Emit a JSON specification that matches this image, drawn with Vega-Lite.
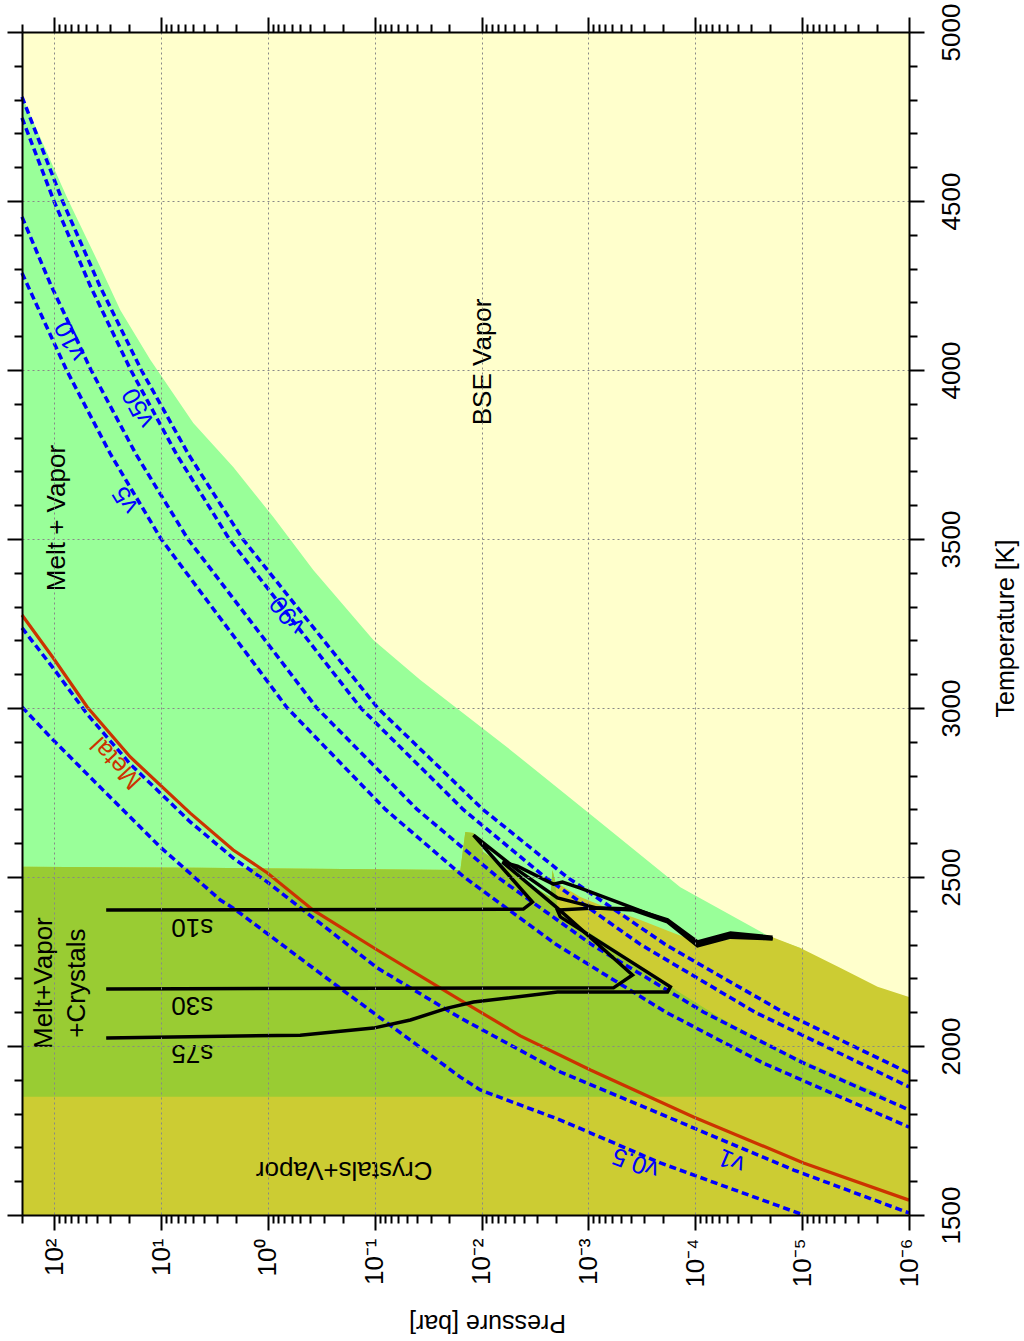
{
  "$schema": "https://vega.github.io/schema/vega-lite/v6.json",
  "width": 887,
  "height": 1183,
  "autosize": {"type": "none"},
  "padding": {"left": 22, "top": 32, "right": 115, "bottom": 126},
  "background": "white",
  "config": {
    "font": "Liberation Sans",
    "view": {"fill": "#ffffcc", "stroke": null}
  },
  "datasets": {
    "green": [
      {"P": 200, "T": 4810}, {"P": 102, "T": 4601}, {"P": 74, "T": 4503}, {"P": 37, "T": 4305},
      {"P": 24, "T": 4177}, {"P": 12.6, "T": 4030}, {"P": 4.99, "T": 3843}, {"P": 2.11, "T": 3713},
      {"P": 0.89, "T": 3565}, {"P": 0.376, "T": 3408}, {"P": 0.103, "T": 3201}, {"P": 0.0374, "T": 3083},
      {"P": 0.00537, "T": 2876}, {"P": 0.000824, "T": 2669}, {"P": 0.000138, "T": 2470},
      {"P": 1.98e-5, "T": 2322}, {"P": 1.04e-5, "T": 2290}
    ],
    "olive": [
      {"P": 200, "T": 2530}, {"P": 4.3, "T": 2527}, {"P": 0.0158, "T": 2521}, {"P": 0.0142, "T": 2633},
      {"P": 0.0119, "T": 2630}, {"P": 0.00962, "T": 2574}, {"P": 0.00372, "T": 2482}, {"P": 0.00227, "T": 2441},
      {"P": 0.00217, "T": 2521}, {"P": 0.00204, "T": 2485}, {"P": 0.00119, "T": 2441}, {"P": 0.000664, "T": 2408},
      {"P": 0.000326, "T": 2373}, {"P": 0.00016, "T": 2334}, {"P": 9.53e-5, "T": 2308}, {"P": 3.78e-5, "T": 2319},
      {"P": 1.89e-5, "T": 2322}, {"P": 1.04e-5, "T": 2290}, {"P": 4.37e-6, "T": 2231}, {"P": 1.97e-6, "T": 2175},
      {"P": 1e-6, "T": 2145}
    ],
    "olivegreen": [
      {"P": 200, "T": 2530}, {"P": 4.3, "T": 2527}, {"P": 0.0158, "T": 2521}, {"P": 0.0142, "T": 2633},
      {"P": 0.0119, "T": 2630}, {"P": 0.00962, "T": 2574}, {"P": 0.00372, "T": 2482}, {"P": 0.00227, "T": 2441},
      {"P": 0.00217, "T": 2521}, {"P": 0.00204, "T": 2485}, {"P": 0.00195, "T": 2396}, {"P": 0.000772, "T": 2314},
      {"P": 0.000326, "T": 2237}, {"P": 0.000138, "T": 2157}, {"P": 5.81e-5, "T": 2083}, {"P": 1.59e-5, "T": 1988},
      {"P": 4.37e-6, "T": 1908}, {"P": 1.58e-6, "T": 1850}
    ],
    "lines": [
      {"name": "v90", "P": 200, "T": 4808}, {"name": "v90", "P": 83.6, "T": 4500}, {"name": "v90", "P": 37.6, "T": 4250},
      {"name": "v90", "P": 15.3, "T": 4000}, {"name": "v90", "P": 5.52, "T": 3750}, {"name": "v90", "P": 1.72, "T": 3500},
      {"name": "v90", "P": 0.0938, "T": 3000}, {"name": "v90", "P": 0.00973, "T": 2700}, {"name": "v90", "P": 0.00159, "T": 2500},
      {"name": "v90", "P": 0.00019, "T": 2300}, {"name": "v90", "P": 1.51e-5, "T": 2100}, {"name": "v90", "P": 1e-6, "T": 1920},
      {"name": "v50", "P": 200, "T": 4746}, {"name": "v50", "P": 100.5, "T": 4500}, {"name": "v50", "P": 46.1, "T": 4250},
      {"name": "v50", "P": 19.2, "T": 4000}, {"name": "v50", "P": 7.14, "T": 3750}, {"name": "v50", "P": 2.3, "T": 3500},
      {"name": "v50", "P": 0.135, "T": 3000}, {"name": "v50", "P": 0.0149, "T": 2700}, {"name": "v50", "P": 0.00256, "T": 2500},
      {"name": "v50", "P": 0.000324, "T": 2300}, {"name": "v50", "P": 2.76e-5, "T": 2100}, {"name": "v50", "P": 1e-6, "T": 1879},
      {"name": "v10", "P": 200, "T": 4453}, {"name": "v10", "P": 107, "T": 4250}, {"name": "v10", "P": 45.2, "T": 4000},
      {"name": "v10", "P": 17.1, "T": 3750}, {"name": "v10", "P": 5.61, "T": 3500}, {"name": "v10", "P": 0.348, "T": 3000},
      {"name": "v10", "P": 0.0401, "T": 2700}, {"name": "v10", "P": 0.00711, "T": 2500}, {"name": "v10", "P": 0.000933, "T": 2300},
      {"name": "v10", "P": 8.32e-5, "T": 2100}, {"name": "v10", "P": 9.8e-6, "T": 1950}, {"name": "v10", "P": 1e-6, "T": 1811},
      {"name": "v5", "P": 200, "T": 4287}, {"name": "v5", "P": 76.7, "T": 4000}, {"name": "v5", "P": 29.6, "T": 3750},
      {"name": "v5", "P": 9.98, "T": 3500}, {"name": "v5", "P": 0.658, "T": 3000}, {"name": "v5", "P": 0.0794, "T": 2700},
      {"name": "v5", "P": 0.0146, "T": 2500}, {"name": "v5", "P": 0.002, "T": 2300}, {"name": "v5", "P": 0.000188, "T": 2100},
      {"name": "v5", "P": 2.33e-5, "T": 1950}, {"name": "v5", "P": 1e-6, "T": 1760},
      {"name": "v1", "P": 200, "T": 3237}, {"name": "v1", "P": 102, "T": 3118}, {"name": "v1", "P": 49.1, "T": 2982},
      {"name": "v1", "P": 19.4, "T": 2834}, {"name": "v1", "P": 5.33, "T": 2663}, {"name": "v1", "P": 2.11, "T": 2556},
      {"name": "v1", "P": 1.01, "T": 2485}, {"name": "v1", "P": 0.376, "T": 2379}, {"name": "v1", "P": 0.0946, "T": 2231},
      {"name": "v1", "P": 0.0158, "T": 2083}, {"name": "v1", "P": 0.00183, "T": 1923}, {"name": "v1", "P": 0.000212, "T": 1799},
      {"name": "v1", "P": 1.2e-5, "T": 1633}, {"name": "v1", "P": 1e-6, "T": 1506},
      {"name": "v0.5", "P": 200, "T": 3003}, {"name": "v0.5", "P": 102, "T": 2905}, {"name": "v0.5", "P": 34.8, "T": 2757},
      {"name": "v0.5", "P": 10.2, "T": 2589}, {"name": "v0.5", "P": 2.79, "T": 2432}, {"name": "v0.5", "P": 2.11, "T": 2408},
      {"name": "v0.5", "P": 0.244, "T": 2186}, {"name": "v0.5", "P": 0.0158, "T": 1908}, {"name": "v0.5", "P": 0.0103, "T": 1870},
      {"name": "v0.5", "P": 0.00183, "T": 1781}, {"name": "v0.5", "P": 0.000212, "T": 1654}, {"name": "v0.5", "P": 9.7e-6, "T": 1500},
      {"name": "Metal", "P": 200, "T": 3275}, {"name": "Metal", "P": 102, "T": 3148}, {"name": "Metal", "P": 49.1, "T": 3003},
      {"name": "Metal", "P": 19.4, "T": 2855}, {"name": "Metal", "P": 5.33, "T": 2689}, {"name": "Metal", "P": 2.11, "T": 2580},
      {"name": "Metal", "P": 1.01, "T": 2512}, {"name": "Metal", "P": 0.376, "T": 2402}, {"name": "Metal", "P": 0.0946, "T": 2284},
      {"name": "Metal", "P": 0.0158, "T": 2136}, {"name": "Metal", "P": 0.00434, "T": 2030}, {"name": "Metal", "P": 0.000957, "T": 1929},
      {"name": "Metal", "P": 0.000104, "T": 1790}, {"name": "Metal", "P": 9.7e-6, "T": 1654}, {"name": "Metal", "P": 1e-6, "T": 1544}
    ],
    "isentropes": [
      {"name": "s10", "i": 1, "P": 32.6, "T": 2402}, {"name": "s10", "i": 2, "P": 0.00406, "T": 2405},
      {"name": "s10", "i": 3, "P": 0.00334, "T": 2426}, {"name": "s10", "i": 4, "P": 0.0119, "T": 2624},
      {"name": "s10", "i": 5, "P": 0.00462, "T": 2521}, {"name": "s10", "i": 6, "P": 0.00195, "T": 2438},
      {"name": "s10", "i": 7, "P": 0.000824, "T": 2408}, {"name": "s10", "i": 8, "P": 0.000379, "T": 2405},
      {"name": "s10", "i": 9, "P": 0.000182, "T": 2373}, {"name": "s10", "i": 10, "P": 9.53e-5, "T": 2308},
      {"name": "s10", "i": 11, "P": 4.68e-5, "T": 2334}, {"name": "s10", "i": 12, "P": 1.89e-5, "T": 2322},
      {"name": "s30", "i": 1, "P": 32.6, "T": 2169}, {"name": "s30", "i": 2, "P": 0.000583, "T": 2172},
      {"name": "s30", "i": 3, "P": 0.000387, "T": 2210}, {"name": "s30", "i": 4, "P": 0.00195, "T": 2408},
      {"name": "s30", "i": 5, "P": 0.00638, "T": 2544}, {"name": "s30", "i": 6, "P": 0.00462, "T": 2532},
      {"name": "s30", "i": 7, "P": 0.00213, "T": 2479}, {"name": "s30", "i": 8, "P": 0.00175, "T": 2485},
      {"name": "s30", "i": 9, "P": 0.00119, "T": 2467}, {"name": "s30", "i": 10, "P": 0.000379, "T": 2408},
      {"name": "s30", "i": 11, "P": 0.000182, "T": 2370}, {"name": "s30", "i": 12, "P": 9.53e-5, "T": 2302},
      {"name": "s30", "i": 13, "P": 4.68e-5, "T": 2328}, {"name": "s30", "i": 14, "P": 1.89e-5, "T": 2317},
      {"name": "s75", "i": 1, "P": 32.6, "T": 2024}, {"name": "s75", "i": 2, "P": 0.498, "T": 2032},
      {"name": "s75", "i": 3, "P": 0.103, "T": 2053}, {"name": "s75", "i": 4, "P": 0.0464, "T": 2077},
      {"name": "s75", "i": 5, "P": 0.0209, "T": 2112}, {"name": "s75", "i": 6, "P": 0.0119, "T": 2130},
      {"name": "s75", "i": 7, "P": 0.00195, "T": 2160}, {"name": "s75", "i": 8, "P": 0.000182, "T": 2160},
      {"name": "s75", "i": 9, "P": 0.000171, "T": 2175}, {"name": "s75", "i": 10, "P": 0.00183, "T": 2382},
      {"name": "s75", "i": 11, "P": 0.00195, "T": 2402}, {"name": "s75", "i": 12, "P": 0.000859, "T": 2408},
      {"name": "s75", "i": 13, "P": 0.000379, "T": 2402}, {"name": "s75", "i": 14, "P": 0.000182, "T": 2367},
      {"name": "s75", "i": 15, "P": 9.53e-5, "T": 2296}, {"name": "s75", "i": 16, "P": 4.68e-5, "T": 2322},
      {"name": "s75", "i": 17, "P": 1.89e-5, "T": 2317}
    ]
  },
  "encoding": {
    "x": {"field": "P", "type": "quantitative", "scale": {"type": "log", "domain": [1e-6, 200], "reverse": true, "nice": false}, "axis": null},
    "y": {"field": "T", "type": "quantitative", "scale": {"domain": [1500, 5000], "nice": false, "zero": false}, "axis": null}
  },
  "layer": [
    {
      "data": {"name": "green"},
      "mark": {"type": "area", "color": "#99ff99", "opacity": 1},
      "encoding": {
        "x": {"field": "P", "type": "quantitative", "scale": {"type": "log", "domain": [1e-6, 200], "reverse": true, "nice": false},
          "axis": {"orient": "bottom",
            "values": [1e-6,2e-6,3e-6,4e-6,5e-6,6e-6,7e-6,8e-6,9e-6,1e-5,2e-5,3e-5,4e-5,5e-5,6e-5,7e-5,8e-5,9e-5,1e-4,2e-4,3e-4,4e-4,5e-4,6e-4,7e-4,8e-4,9e-4,0.001,0.002,0.003,0.004,0.005,0.006,0.007,0.008,0.009,0.01,0.02,0.03,0.04,0.05,0.06,0.07,0.08,0.09,0.1,0.2,0.3,0.4,0.5,0.6,0.7,0.8,0.9,1,2,3,4,5,6,7,8,9,10,20,30,40,50,60,70,80,90,100,200],
            "labelExpr": "abs(log(datum.value)/LN10 - round(log(datum.value)/LN10)) > 0.01 ? '' : ['10⁻⁶','10⁻⁵','10⁻⁴','10⁻³','10⁻²','10⁻¹','10⁰','10¹','10²'][round(log(datum.value)/LN10) + 6]",
            "labelAngle": 270, "labelAlign": "right", "labelBaseline": "middle",
            "labelFontSize": 26, "labelPadding": 8, "labelColor": "black", "labelOverlap": false, "labelFlush": false,
            "tickSize": {"condition": {"test": "abs(log(datum.value)/LN10 - round(log(datum.value)/LN10)) < 0.01", "value": 15}, "value": 8},
            "tickWidth": 2, "tickColor": "black", "domainColor": "black", "domainWidth": 2,
            "grid": true,
            "gridOpacity": {"condition": {"test": "abs(log(datum.value)/LN10 - round(log(datum.value)/LN10)) < 0.01", "value": 1}, "value": 0},
            "gridColor": "#888888", "gridDash": [2, 3], "gridWidth": 1,
            "title": "Pressure [bar]", "titleAngle": 180, "titleFontSize": 25, "titleFontWeight": "normal", "titleColor": "black",
            "titleX": 465, "titleY": 107, "titleAlign": "center", "titleBaseline": "middle",
            "zindex": 1}},
        "y": {"field": "T", "type": "quantitative", "scale": {"domain": [1500, 5000], "nice": false, "zero": false},
          "axis": {"orient": "right",
            "values": [1500,1600,1700,1800,1900,2000,2100,2200,2300,2400,2500,2600,2700,2800,2900,3000,3100,3200,3300,3400,3500,3600,3700,3800,3900,4000,4100,4200,4300,4400,4500,4600,4700,4800,4900,5000],
            "labelExpr": "datum.value % 500 === 0 ? '' + datum.value : ''",
            "labelAngle": 270, "labelAlign": "center", "labelBaseline": "top",
            "labelFontSize": 26, "labelPadding": 14, "labelColor": "black", "labelOverlap": false, "labelFlush": false,
            "tickSize": {"condition": {"test": "datum.value % 500 === 0", "value": 15}, "value": 8},
            "tickWidth": 2, "tickColor": "black", "domainColor": "black", "domainWidth": 2,
            "grid": true,
            "gridOpacity": {"condition": {"test": "datum.value % 500 === 0", "value": 1}, "value": 0},
            "gridColor": "#888888", "gridDash": [2, 3], "gridWidth": 1,
            "title": "Temperature [K]", "titleAngle": 270, "titleFontSize": 25, "titleFontWeight": "normal", "titleColor": "black",
            "titleX": 96, "titleY": 596, "titleAlign": "center", "titleBaseline": "middle",
            "zindex": 1}},
        "y2": {"datum": 1500}
      }
    },
    {
      "data": {"name": "olive"},
      "mark": {"type": "area", "color": "#cccc33", "opacity": 1},
      "encoding": {
        "x": {"field": "P", "type": "quantitative", "scale": {"type": "log", "domain": [1e-6, 200], "reverse": true, "nice": false},
          "axis": {"orient": "top",
            "values": [1e-6,2e-6,3e-6,4e-6,5e-6,6e-6,7e-6,8e-6,9e-6,1e-5,2e-5,3e-5,4e-5,5e-5,6e-5,7e-5,8e-5,9e-5,1e-4,2e-4,3e-4,4e-4,5e-4,6e-4,7e-4,8e-4,9e-4,0.001,0.002,0.003,0.004,0.005,0.006,0.007,0.008,0.009,0.01,0.02,0.03,0.04,0.05,0.06,0.07,0.08,0.09,0.1,0.2,0.3,0.4,0.5,0.6,0.7,0.8,0.9,1,2,3,4,5,6,7,8,9,10,20,30,40,50,60,70,80,90,100,200],
            "labels": false, "grid": false, "title": null,
            "tickSize": {"condition": {"test": "abs(log(datum.value)/LN10 - round(log(datum.value)/LN10)) < 0.01", "value": 15}, "value": 8},
            "tickWidth": 2, "tickColor": "black", "domainColor": "black", "domainWidth": 2, "zindex": 1}},
        "y": {"field": "T", "type": "quantitative", "scale": {"domain": [1500, 5000], "nice": false, "zero": false},
          "axis": {"orient": "left",
            "values": [1500,1600,1700,1800,1900,2000,2100,2200,2300,2400,2500,2600,2700,2800,2900,3000,3100,3200,3300,3400,3500,3600,3700,3800,3900,4000,4100,4200,4300,4400,4500,4600,4700,4800,4900,5000],
            "labels": false, "grid": false, "title": null,
            "tickSize": {"condition": {"test": "datum.value % 500 === 0", "value": 15}, "value": 8},
            "tickWidth": 2, "tickColor": "black", "domainColor": "black", "domainWidth": 2, "zindex": 1}},
        "y2": {"datum": 1500}
      }
    },
    {
      "data": {"name": "olivegreen"},
      "mark": {"type": "area", "color": "#99cc33", "opacity": 1},
      "encoding": {"y2": {"datum": 1850}}
    },
    {
      "data": {"name": "lines"},
      "transform": [{"filter": "datum.name !== 'Metal'"}],
      "mark": {"type": "line", "color": "#0000ff", "strokeWidth": 3.5, "strokeDash": [7, 4]},
      "encoding": {"detail": {"field": "name"}}
    },
    {
      "data": {"name": "lines"},
      "transform": [{"filter": "datum.name === 'Metal'"}],
      "mark": {"type": "line", "color": "#cc3300", "strokeWidth": 3.2}
    },
    {
      "data": {"name": "isentropes"},
      "mark": {"type": "line", "color": "black", "strokeWidth": 3.5},
      "encoding": {"detail": {"field": "name"}, "order": {"field": "i", "type": "quantitative"}}
    },
    {
      "data": {"values": [{"label": "BSE Vapor", "P": 0.00962, "T": 4024}, {"label": "Melt + Vapor", "P": 93.7, "T": 3562}]},
      "mark": {"type": "text", "angle": 270, "fontSize": 26, "color": "black"},
      "encoding": {"text": {"field": "label"}}
    },
    {
      "data": {"values": [{"label": "Melt+Vapor\n+Crystals", "P": 124, "T": 2186}]},
      "mark": {"type": "text", "angle": 270, "fontSize": 26, "color": "black", "lineBreak": "\n", "lineHeight": 33},
      "encoding": {"text": {"field": "label"}}
    },
    {
      "data": {"values": [{"label": "Crystals+Vapor", "P": 0.193, "T": 1633}, {"label": "s10", "P": 5.1, "T": 2352}, {"label": "s30", "P": 5.1, "T": 2121}, {"label": "s75", "P": 5.1, "T": 1979}]},
      "mark": {"type": "text", "angle": 180, "fontSize": 26, "color": "black"},
      "encoding": {"text": {"field": "label"}}
    },
    {
      "data": {"values": [{"label": "Metal", "P": 26.3, "T": 2837}]},
      "mark": {"type": "text", "angle": 227, "fontSize": 25, "color": "#cc3300"},
      "encoding": {"text": {"field": "label"}}
    },
    {
      "data": {"values": [{"label": "v90", "P": 0.658, "T": 3275}]},
      "mark": {"type": "text", "angle": 232, "fontSize": 25, "color": "#0000ff"},
      "encoding": {"text": {"field": "label"}}
    },
    {
      "data": {"values": [{"label": "v50", "P": 16.4, "T": 3888}]},
      "mark": {"type": "text", "angle": 242, "fontSize": 25, "color": "#0000ff"},
      "encoding": {"text": {"field": "label"}}
    },
    {
      "data": {"values": [{"label": "v10", "P": 70.8, "T": 4086}]},
      "mark": {"type": "text", "angle": 244, "fontSize": 25, "color": "#0000ff"},
      "encoding": {"text": {"field": "label"}}
    },
    {
      "data": {"values": [{"label": "v5", "P": 21.6, "T": 3615}]},
      "mark": {"type": "text", "angle": 239, "fontSize": 25, "color": "#0000ff"},
      "encoding": {"text": {"field": "label"}}
    },
    {
      "data": {"values": [{"label": "v0.5", "P": 0.000363, "T": 1654}]},
      "mark": {"type": "text", "angle": 200, "fontSize": 25, "color": "#0000ff"},
      "encoding": {"text": {"field": "label"}}
    },
    {
      "data": {"values": [{"label": "v1", "P": 4.58e-5, "T": 1660}]},
      "mark": {"type": "text", "angle": 203, "fontSize": 25, "color": "#0000ff"},
      "encoding": {"text": {"field": "label"}}
    }
  ],
  "resolve": {"axis": {"x": "independent", "y": "independent"}}
}
